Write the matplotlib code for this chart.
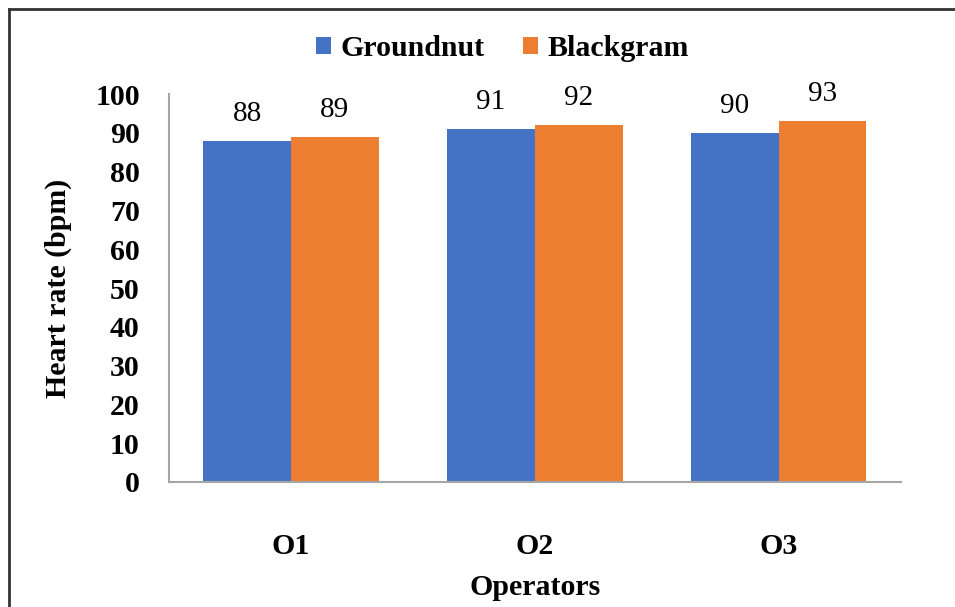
import matplotlib
matplotlib.use("Agg")
import matplotlib.pyplot as plt
from matplotlib.lines import Line2D
import numpy as np

categories = ["O1", "O2", "O3"]
groundnut = [88, 91, 90]
blackgram = [89, 92, 93]
series_names = ["Groundnut", "Blackgram"]
yticks = [0, 10, 20, 30, 40, 50, 60, 70, 80, 90, 100]

plt.rcParams['font.family'] = ['Liberation Serif', 'DejaVu Serif']

fig = plt.figure(figsize=(9.55, 6.07), dpi=100)
ax = fig.add_axes([0.177, 0.206, 0.766, 0.639])

x = np.arange(len(categories))
w = 0.36
b1 = ax.bar(x - w/2, groundnut, w, color="#4472C4", label=series_names[0])
b2 = ax.bar(x + w/2, blackgram, w, color="#ED7D31", label=series_names[1])
for bars in (b1, b2):
    ax.bar_label(bars, padding=10, fontsize=21)

ax.set_xlim(-0.5, len(categories) - 0.5)
ax.set_ylim(0, 100)
ax.set_yticks(yticks)
ax.set_xticks(x)
ax.set_xticklabels(categories)
for lab in ax.get_yticklabels() + ax.get_xticklabels():
    lab.set_fontsize(21.5)
    lab.set_fontweight('bold')
ax.tick_params(axis='y', length=0, pad=21)
ax.tick_params(axis='x', length=0, pad=37)

for s in ("top", "right"):
    ax.spines[s].set_visible(False)
for s in ("left", "bottom"):
    ax.spines[s].set_color("#a6a6a6")
    ax.spines[s].set_linewidth(1.5)

ax.set_ylabel("Heart rate (bpm)", fontsize=21.5, fontweight='bold')
ax.set_xlabel("Operators", fontsize=21.5, fontweight='bold', labelpad=10)
ax.yaxis.set_label_coords(-0.133, 0.5)

fig.legend(handles=[b1, b2], labels=series_names, loc="center", bbox_to_anchor=(0.526, 0.92),
           ncol=2, frameon=False, prop={'size': 21.5, 'weight': 'bold'},
           handlelength=0.5, handleheight=0.55, handletextpad=0.3, columnspacing=1.3)

# image frame (top and left edges visible)
fig.add_artist(Line2D([0.009, 1.0], [0.985, 0.985], transform=fig.transFigure, color="#333333", lw=2))
fig.add_artist(Line2D([0.009, 0.009], [0.0, 0.985], transform=fig.transFigure, color="#333333", lw=2))

fig.savefig("out.png", dpi=100)
